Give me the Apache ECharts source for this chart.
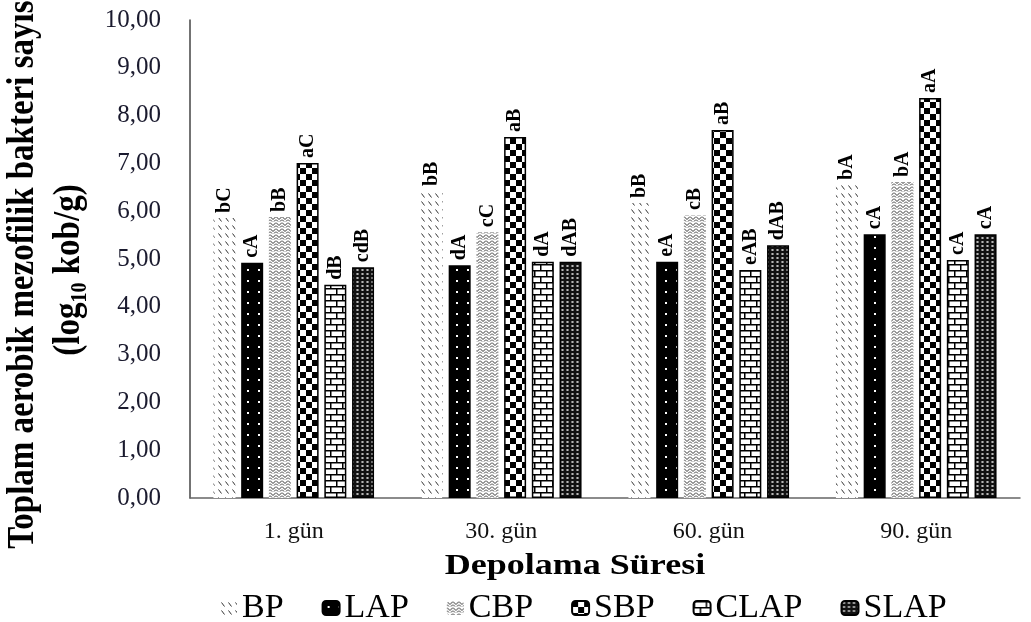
<!DOCTYPE html>
<html>
<head>
<meta charset="utf-8">
<script src="https://cdn.jsdelivr.net/npm/echarts@6/dist/echarts.min.js"></script>
<style>
  html, body { margin: 0; padding: 0; background: #fff; }
  #chart { width: 1031px; height: 622px; }
</style>
</head>
<body>
<div id="chart"></div>
<script>
var days = ['1. gün', '30. gün', '60. gün', '90. gün'];
var groups = ['BP', 'LAP', 'CBP', 'SBP', 'CLAP', 'SLAP'];

var bpValues   = [5.86, 6.42, 6.17, 6.55];
var lapValues  = [4.92, 4.87, 4.94, 5.52];
var cbpValues  = [5.88, 5.56, 5.92, 6.61];
var sbpValues  = [7.01, 7.55, 7.70, 8.37];
var clapValues = [4.46, 4.94, 4.77, 4.98];
var slapValues = [4.83, 4.94, 5.29, 5.52];

var bpLetters   = ['bC', 'bB', 'bB', 'bA'];
var lapLetters  = ['cA', 'dA', 'eA', 'cA'];
var cbpLetters  = ['bB', 'cC', 'cB', 'bA'];
var sbpLetters  = ['aC', 'aB', 'aB', 'aA'];
var clapLetters = ['dB', 'dA', 'eAB', 'cA'];
var slapLetters = ['cdB', 'dAB', 'dAB', 'cA'];

var yTicks = ['0,00', '1,00', '2,00', '3,00', '4,00', '5,00', '6,00', '7,00', '8,00', '9,00', '10,00'];

var SERIF = '"Liberation Serif", "Times New Roman", serif';

// little canvas tiles used as fill patterns
function tile(w, h, draw) {
    var c = document.createElement('canvas');
    c.width = w; c.height = h;
    var ctx = c.getContext('2d');
    draw(ctx, w, h);
    return { image: c, repeat: 'repeat' };
}

var bpFill = tile(7, 8, function (ctx) {
    ctx.fillStyle = '#fff'; ctx.fillRect(0, 0, 7, 8);
    ctx.strokeStyle = '#333'; ctx.lineWidth = 1;
    ctx.beginPath(); ctx.moveTo(1.5, 1.5); ctx.lineTo(4.5, 5.5); ctx.stroke();
});
var lapFill = tile(11, 11, function (ctx) {
    ctx.fillStyle = '#000'; ctx.fillRect(0, 0, 11, 11);
    ctx.fillStyle = '#fff'; ctx.fillRect(5, 5, 2, 2);
});
var cbpFill = tile(6, 6, function (ctx) {
    ctx.fillStyle = '#fff'; ctx.fillRect(0, 0, 6, 6);
    ctx.strokeStyle = '#333'; ctx.lineWidth = 1;
    ctx.beginPath();
    ctx.moveTo(0, 0.5); ctx.lineTo(3, 3.5); ctx.lineTo(6, 0.5);
    ctx.moveTo(0, 3.5); ctx.lineTo(2, 5.5);
    ctx.moveTo(4, 5.5); ctx.lineTo(6, 3.5);
    ctx.stroke();
});
var sbpFill = tile(12, 12, function (ctx) {
    ctx.fillStyle = '#fff'; ctx.fillRect(0, 0, 12, 12);
    ctx.fillStyle = '#000';
    ctx.fillRect(0, 0, 6, 6); ctx.fillRect(6, 6, 6, 6);
});
var clapFill = tile(12, 12, function (ctx) {
    ctx.fillStyle = '#fff'; ctx.fillRect(0, 0, 12, 12);
    ctx.fillStyle = '#000';
    ctx.fillRect(0, 0, 12, 1.5); ctx.fillRect(0, 6, 12, 1.5);
    ctx.fillRect(0, 0, 1.5, 6); ctx.fillRect(6, 6, 1.5, 6);
});
var slapFill = tile(5, 4, function (ctx) {
    ctx.fillStyle = '#111'; ctx.fillRect(0, 0, 5, 4);
    ctx.fillStyle = '#fff';
    ctx.beginPath(); ctx.ellipse(2.5, 2, 1.4, 0.8, 0, 0, Math.PI * 2); ctx.fill();
});

function makeSeries(name, values, letters, fill, border) {
    return {
        name: name,
        type: 'bar',
        data: values,
        barWidth: 22,
        barGap: '26%',
        itemStyle: {
            color: fill,
            borderColor: border ? '#000' : 'transparent',
            borderWidth: border ? 1.5 : 0
        },
        label: {
            show: true,
            position: 'top',
            rotate: 90,
            align: 'left',
            verticalAlign: 'middle',
            distance: 5,
            color: '#000',
            fontFamily: SERIF,
            fontWeight: 'bold',
            fontSize: 20,
            formatter: function (p) { return letters[p.dataIndex]; }
        }
    };
}

var chart = echarts.init(document.getElementById('chart'));
chart.setOption({
    backgroundColor: '#fff',
    animation: false,
    grid: { left: 190, right: 11, top: 20, bottom: 124 },
    legend: {
        data: groups,
        left: 215,
        top: 586,
        itemWidth: 17,
        itemHeight: 14,
        itemGap: 38,
        textStyle: { fontFamily: SERIF, fontSize: 34, color: '#000' }
    },
    xAxis: {
        type: 'category',
        data: days,
        axisLine: { lineStyle: { color: '#666', width: 1.5 } },
        axisTick: { show: false },
        axisLabel: { fontFamily: SERIF, fontSize: 24, color: '#111', margin: 22 }
    },
    yAxis: {
        type: 'value',
        min: 0,
        max: 10,
        interval: 1,
        splitLine: { show: false },
        axisLine: { show: true, lineStyle: { color: '#444', width: 1.5 } },
        axisTick: { show: false },
        axisLabel: {
            fontFamily: SERIF, fontSize: 25, color: '#1a1a2e', margin: 29,
            formatter: function (v) { return yTicks[Math.round(v)]; }
        }
    },
    graphic: [
        {
            type: 'text',
            x: 46,
            y: 270,
            rotation: Math.PI / 2,
            scaleY: 1.15,
            style: {
                text: '{a|Toplam aerobik mezofilik bakteri sayısı}\n{a|(log}{s|10}{a| kob/g)}',
                align: 'center',
                verticalAlign: 'middle',
                rich: {
                    a: { fontFamily: SERIF, fontWeight: 'bold', fontSize: 33, lineHeight: 40, fill: '#000' },
                    s: { fontFamily: SERIF, fontWeight: 'bold', fontSize: 20, lineHeight: 40, verticalAlign: 'bottom', fill: '#000' }
                }
            }
        },
        {
            type: 'text',
            x: 575,
            y: 566,
            scaleX: 1.2,
            style: {
                text: 'Depolama Süresi',
                align: 'center',
                verticalAlign: 'middle',
                font: 'bold 30px ' + SERIF,
                fill: '#000'
            }
        }
    ],
    series: [
        makeSeries('BP', bpValues, bpLetters, bpFill, false),
        makeSeries('LAP', lapValues, lapLetters, lapFill, true),
        makeSeries('CBP', cbpValues, cbpLetters, cbpFill, false),
        makeSeries('SBP', sbpValues, sbpLetters, sbpFill, true),
        makeSeries('CLAP', clapValues, clapLetters, clapFill, true),
        makeSeries('SLAP', slapValues, slapLetters, slapFill, true)
    ]
});
</script>
</body>
</html>
